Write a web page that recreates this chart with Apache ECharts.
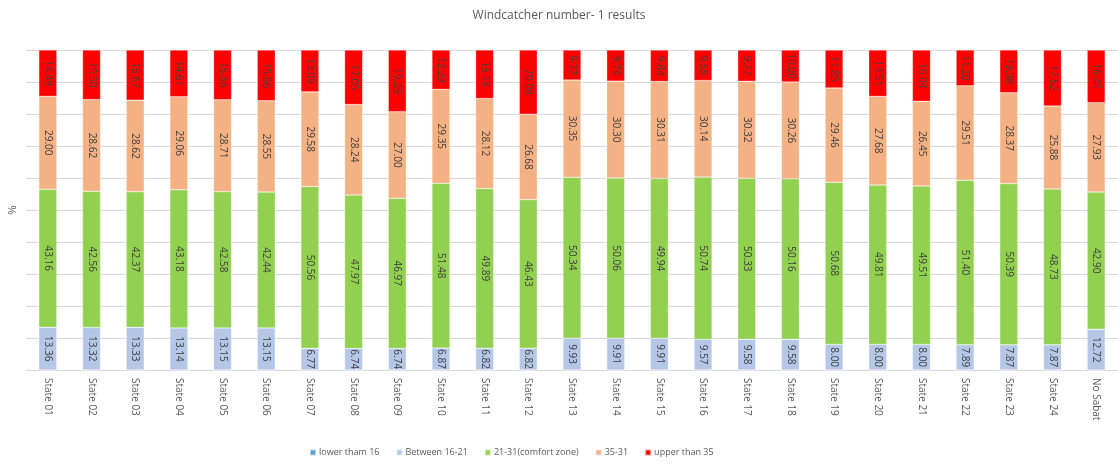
<!DOCTYPE html>
<html><head><meta charset="utf-8">
<script src="https://cdn.jsdelivr.net/npm/echarts@6/dist/echarts.min.js"></script>
<style>html,body{margin:0;padding:0;background:#fff}#c{width:1118px;height:464px}</style>
</head><body><div id="c"></div>
<script>
const categories = ["State 01","State 02","State 03","State 04","State 05","State 06","State 07","State 08","State 09","State 10","State 11","State 12","State 13","State 14","State 15","State 16","State 17","State 18","State 19","State 20","State 21","State 22","State 23","State 24","No Sabat"];
const lowerThan16 = [0,0,0,0,0,0,0,0,0,0,0,0,0,0,0,0,0,0,0,0,0,0,0,0,0];
const between16_21 = [13.36,13.32,13.33,13.14,13.15,13.15,6.77,6.74,6.74,6.87,6.82,6.82,9.93,9.91,9.91,9.57,9.58,9.58,8.00,8.00,8.00,7.89,7.87,7.87,12.72];
const comfort21_31 = [43.16,42.56,42.37,43.18,42.58,42.44,50.56,47.97,46.97,51.48,49.89,46.43,50.34,50.06,49.94,50.74,50.33,50.16,50.68,49.81,49.51,51.40,50.39,48.73,42.90];
const range35_31 = [29.00,28.62,28.62,29.06,28.71,28.55,29.58,28.24,27.00,29.35,28.12,26.68,30.35,30.30,30.31,30.14,30.32,30.26,29.46,27.68,26.45,29.51,28.37,25.88,27.93];
const upperThan35 = [14.49,15.50,15.67,14.61,15.56,15.86,13.09,17.05,19.29,12.29,15.18,20.08,9.37,9.74,9.84,9.55,9.77,10.00,11.85,14.51,16.04,11.20,13.38,17.52,16.45];
const seriesNames = ["lower tham 16","Between 16-21","21-31(comfort zone)","35-31","upper than 35"];

const chart = echarts.init(document.getElementById('c'));
const font = "'Open Sans',sans-serif";
function mk(name, data, color) {
  return {
    name, type: 'bar', stack: 'a', data, barWidth: 18,
    itemStyle: { color, borderColor: 'rgba(255,255,255,0.6)', borderWidth: 0.5 },
    label: {
      show: true, position: 'inside', rotate: -90, fontSize: 10, color: '#404040', fontFamily: font,
      formatter: p => p.value > 0 ? p.value.toFixed(2) : ''
    }
  };
}
chart.setOption({
  animation: false,
  title: { text: 'Windcatcher number- 1 results', left: 'center', top: 5,
    textStyle: { fontSize: 12, fontWeight: 'normal', color: '#595959', fontFamily: font } },
  legend: { bottom: 2, left: 304, itemWidth: 6, itemHeight: 6, itemGap: 16,
    textStyle: { fontSize: 9, color: '#595959', fontFamily: font, padding: [0, 0, 0, -2] },
    data: seriesNames.map(n => ({ name: n, icon: 'rect' })) },
  grid: { left: 23, top: 50, width: 1097, height: 320, containLabel: false },
  xAxis: { type: 'category', data: categories,
    axisLine: { lineStyle: { color: '#d9d9d9' } }, axisTick: { show: false },
    axisLabel: { rotate: -90, fontSize: 10, color: '#595959', fontFamily: font, margin: 8, interval: 0 } },
  yAxis: { type: 'value', min: 0, max: 100, interval: 10, name: '%', nameLocation: 'middle', nameGap: 8,
    nameRotate: 90, nameTextStyle: { fontSize: 10, color: '#595959' },
    axisLabel: { show: false }, axisLine: { show: false }, axisTick: { show: false },
    splitLine: { lineStyle: { color: '#d9d9d9' } } },
  series: [
    mk(seriesNames[0], lowerThan16, '#5b9bd5'),
    mk(seriesNames[1], between16_21, '#b4c7e7'),
    mk(seriesNames[2], comfort21_31, '#92d050'),
    mk(seriesNames[3], range35_31, '#f4b183'),
    mk(seriesNames[4], upperThan35, '#ff0000')
  ]
});
</script></body></html>
